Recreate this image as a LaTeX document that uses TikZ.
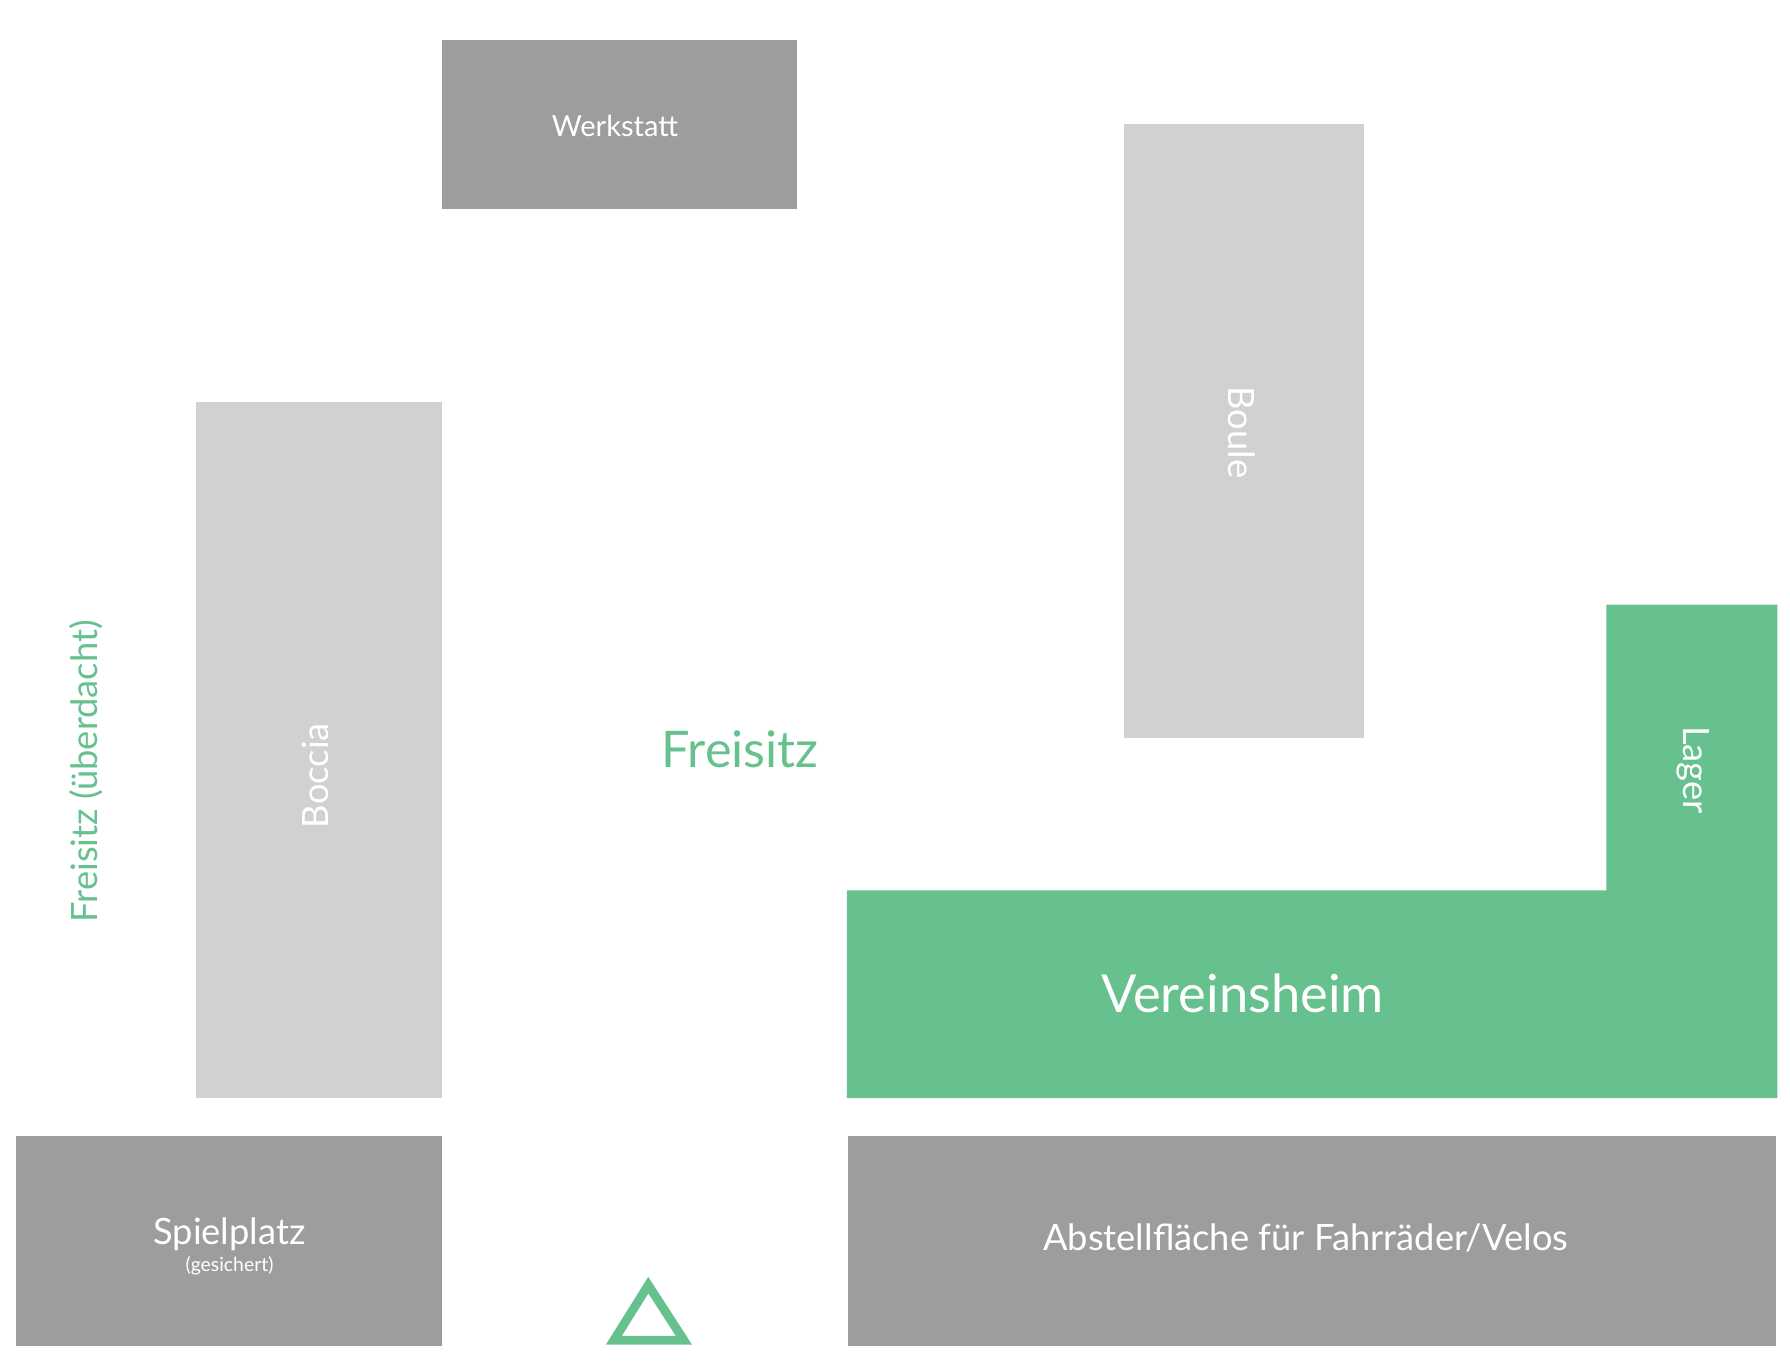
\documentclass[tikz,border=0pt]{standalone}
\usepackage{fontspec}
\setmainfont{Lato}
\usetikzlibrary{positioning}
\definecolor{grisoscuro}{HTML}{9E9D9E}
\definecolor{grisclaro}{HTML}{D1D1D1}
\definecolor{verde}{HTML}{66C18E}

\begin{document}
\begin{tikzpicture}[x=0.01cm,y=-0.01cm,
    campo/.style={text=white,font=\fontsize{9}{10}\selectfont},
    rotulo/.style={text=verde,font=\fontsize{9}{10}\selectfont}]
    % ---- Marco ----
    \useasboundingbox (0,0) rectangle (1560,1190);
    % ---- Superficies ----
    \fill[grisoscuro] (385,35) rectangle (695,182);
    \fill[grisclaro] (980,108) rectangle (1189,643);
    \fill[grisclaro] (171,350) rectangle (385,957);
    \fill[verde] (738,776) -- (1400,776) -- (1400,527) -- (1549,527)
        -- (1549,957) -- (738,957) -- cycle;
    \fill[grisoscuro] (14,990) rectangle (385,1173);
    \fill[grisoscuro] (739,990) rectangle (1548,1173);
    % ---- Eingang ----
    \draw[verde,line width=2.2pt,line join=miter] (565,1120) -- (535,1168) -- (596,1168) -- cycle;

    % ---- Etiquetas ----
    \node[campo,font=\fontsize{7.2}{8}\selectfont] (werkstatt) at (536,110) {Werkstatt};
    \node[campo,rotate=-90] (boule) at (1082,377) {Boule};
    \node[campo,rotate=90] (boccia) at (275,676) {Boccia};
    \node[campo,rotate=-90] (lager) at (1476,671) {Lager};
    \node[campo,font=\fontsize{13}{14}\selectfont] (vereinsheim) at (1083,866) {Vereinsheim};
    \node[campo] (spielplatz) at (200,1076) {Spielplatz};
    \node[campo,font=\fontsize{4.8}{5}\selectfont,below=-0.2cm of spielplatz] (gesichert) {(gesichert)};
    \node[campo] (abstell) at (1138,1079) {Abstellfläche für Fahrräder/Velos};
    \node[rotulo,font=\fontsize{12.5}{14}\selectfont] (freisitz) at (645,653) {Freisitz};
    \node[rotulo,rotate=90] (freisitzueb) at (75,672) {Freisitz (überdacht)};
\end{tikzpicture}
\end{document}
